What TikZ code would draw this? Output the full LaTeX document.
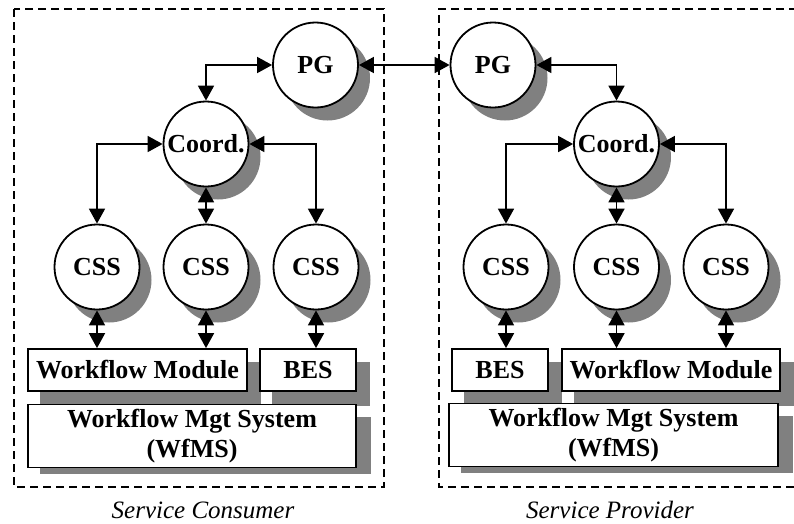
\documentclass[tikz,border=0pt]{standalone}
\usepackage{fontspec}
\setmainfont{Liberation Serif}
\usetikzlibrary{arrows.meta,backgrounds,calc}
\begin{document}
\begin{tikzpicture}[x=1pt,y=-1pt,
  every node/.style={font=\fontsize{26}{30}\selectfont\bfseries},
  circ/.style={draw,circle,fill=white,line width=1.8pt,minimum size=85pt,inner sep=0pt},
  blk/.style={draw,rectangle,fill=white,line width=1.8pt,inner sep=0pt,align=center},
  shad/.style={fill=black!50},
  conn/.style={line width=1.8pt,{Triangle[length=15pt,width=16pt]}-{Triangle[length=15pt,width=16pt]}},
  frame/.style={line width=2pt,dash pattern=on 8pt off 5pt},
  caption/.style={font=\fontsize{25}{30}\selectfont\itshape}]
\useasboundingbox (0,0) rectangle (794,523);
\clip (0,0) rectangle (794,523);
% frames
\draw[frame] (14,9) rectangle (384,487);
\draw[frame] (810,9) -- (439,9) -- (439,487) -- (810,487);
% left side nodes
\node[circ] (pgL) at (315.5,65) {PG};
\node[circ] (coL) at (206,144) {Coord.};
\node[circ] (c1L) at (97,267) {CSS};
\node[circ] (c2L) at (206,267) {CSS};
\node[circ] (c3L) at (316,267) {CSS};
\node[blk,minimum width=219pt,minimum height=42pt] (wmL) at (137.5,370) {Workflow Module};
\node[blk,minimum width=96pt,minimum height=42pt] (besL) at (308,370) {BES};
\node[blk,minimum width=328pt,minimum height=63pt] (wfL) at (192,436) {Workflow Mgt System\\(WfMS)};
% right side nodes
\node[circ] (pgR) at (493,65) {PG};
\node[circ] (coR) at (616.5,144) {Coord.};
\node[circ] (c1R) at (506,267) {CSS};
\node[circ] (c2R) at (616.5,267) {CSS};
\node[circ] (c3R) at (726,267) {CSS};
\node[blk,minimum width=96pt,minimum height=42pt] (besR) at (500,370) {BES};
\node[blk,minimum width=218pt,minimum height=42pt] (wmR) at (671,370) {Workflow Module};
\node[blk,minimum width=329pt,minimum height=63pt] (wfR) at (613.5,435) {Workflow Mgt System\\(WfMS)};
% shadows
\begin{pgfonlayer}{background}
  \foreach \n in {pgL,coL,c1L,c2L,c3L,pgR,coR,c1R,c2R,c3R}
    \fill[shad] ($(\n.center)+(12,13)$) circle (42.5pt);
  \foreach \n in {wmL,besL,besR,wmR}
    \fill[shad] ($(\n.south west)+(13,14)$) rectangle ($(\n.north east)+(13,14)$);
  \fill[shad] ($(wfL.north west)+(13,13)$) rectangle ($(wfL.south east)+(14,6)$);
  \fill[shad] ($(wfR.north west)+(13,13)$) rectangle ($(wfR.south east)+(14,6)$);
\end{pgfonlayer}
% connectors left
\draw[conn] (pgL.west) -| (coL.north);
\draw[conn] (coL.west) -| (c1L.north);
\draw[conn] (coL.east) -| (c3L.north);
\draw[conn] (coL.south) -- (c2L.north);
\draw[conn] (c1L.south) -- (c1L.south |- wmL.north);
\draw[conn] (c2L.south) -- (c2L.south |- wmL.north);
\draw[conn] (c3L.south) -- (c3L.south |- besL.north);
% between
\draw[conn] (pgL.east) -- (pgR.west);
% connectors right
\draw[conn] (pgR.east) -| (coR.north);
\draw[conn] (coR.west) -| (c1R.north);
\draw[conn] (coR.east) -| (c3R.north);
\draw[conn] (coR.south) -- (c2R.north);
\draw[conn] (c1R.south) -- (c1R.south |- besR.north);
\draw[conn] (c2R.south) -- (c2R.south |- wmR.north);
\draw[conn] (c3R.south) -- (c3R.south |- wmR.north);
% captions
\node[caption] (capL) at (203,510) {Service Consumer};
\node[caption] (capR) at (610,510) {Service Provider};
\end{tikzpicture}
\end{document}
